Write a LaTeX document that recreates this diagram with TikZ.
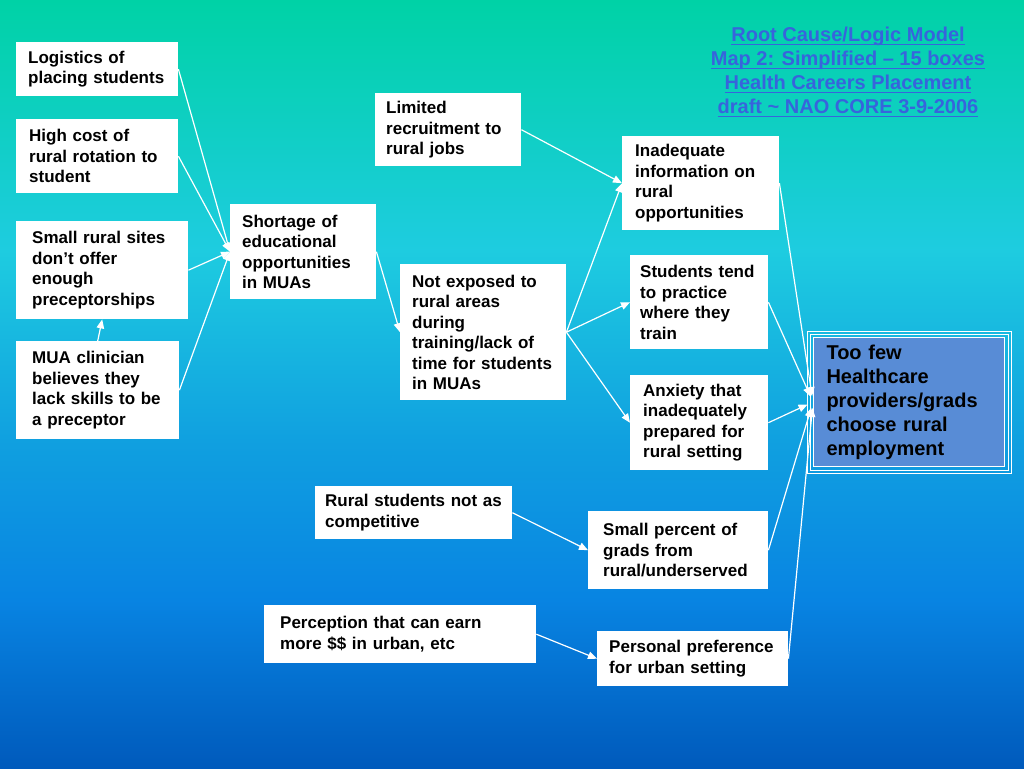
\documentclass[tikz,border=0pt]{standalone}
\usepackage{fontspec}
\setmainfont{Liberation Sans}
\usetikzlibrary{arrows.meta}

\definecolor{bgA}{RGB}{0,210,166}
\definecolor{bgB}{RGB}{30,204,224}
\definecolor{bgC}{RGB}{16,160,224}
\definecolor{bgD}{RGB}{8,132,226}
\definecolor{bgE}{RGB}{0,90,188}
\definecolor{titleblue}{RGB}{55,100,220}
\definecolor{fewblue}{RGB}{88,140,214}

% underlined title line
\newcommand{\titleline}[1]{\sbox0{#1}\rlap{\rule[-3.5pt]{\wd0}{1.3pt}}\usebox0}

\tikzset{
  box/.style={fill=white, anchor=north west, align=left, inner xsep=12pt, inner ysep=0pt,
    font=\bfseries\fontsize{17}{20.5}\selectfont},
}

\begin{document}
\begin{tikzpicture}[x=1pt, y=-1pt, >={Triangle[length=9pt,width=7.5pt]}]
			\useasboundingbox (0,0) rectangle (1024,768);
			\fill[top color=bgA, bottom color=bgB] (0,0) rectangle (1024,250.5);
			\fill[top color=bgB, bottom color=bgC] (0,250) rectangle (1024,440.5);
			\fill[top color=bgC, bottom color=bgD] (0,440) rectangle (1024,600.5);
			\fill[top color=bgD, bottom color=bgE] (0,600) rectangle (1024,768);

			\node[text=titleblue, align=center, inner sep=0pt, font=\bfseries\fontsize{20}{24}\selectfont] (title) at (848,72)
				{\titleline{Root Cause/Logic Model}\\\titleline{Map 2: Simplified – 15 boxes}\\\titleline{Health Careers Placement}\\\titleline{draft \textasciitilde\ NAO CORE 3-9-2006}};

			\begin{scope}[every node/.style={box}]
				\node[text width=138pt, minimum height=54pt] (logi) at (16,42) {Logistics of\\placing students};
				\node[inner xsep=13pt, text width=136pt, minimum height=74pt] (cost) at (16,119) {High cost of\\rural rotation to\\student};
				\node[inner xsep=16pt, text width=140pt, minimum height=98pt] (sites) at (16,221) {Small rural sites\\don’t offer\\enough\\preceptorships};
				\node[inner xsep=16pt, text width=131pt, minimum height=98pt] (mua) at (16,341) {MUA clinician\\believes they\\lack skills to be\\a preceptor};
				\node[text width=122pt, minimum height=95pt] (short) at (230,204) {Shortage of\\educational\\opportunities\\in MUAs};
				\node[inner xsep=11pt, text width=124pt, minimum height=73pt] (limit) at (375,93) {Limited\\recruitment to\\rural jobs};
				\node[text width=142pt, minimum height=136pt] (expo) at (400,264) {Not exposed to\\rural areas\\during\\training/lack of\\time for students\\in MUAs};
				\node[inner xsep=13pt, text width=131pt, minimum height=94pt] (inad) at (622,136) {Inadequate\\information on\\rural\\opportunities};
				\node[inner xsep=10pt, text width=118pt, minimum height=94pt] (tend) at (630,255) {Students tend\\to practice\\where they\\train};
				\node[inner xsep=13pt, text width=112pt, minimum height=95pt] (anx) at (630,375) {Anxiety that\\inadequately\\prepared for\\rural setting};
				\node[inner xsep=10pt, text width=177pt, minimum height=53pt] (rstu) at (315,486) {Rural students not as\\competitive};
				\node[inner xsep=15pt, text width=150pt, minimum height=78pt] (spct) at (588,511) {Small percent of\\grads from\\rural/underserved};
				\node[inner xsep=16pt, text width=240pt, minimum height=58pt] (perc) at (264,605) {Perception that can earn\\more \$\$ in urban, etc};
				\node[text width=167pt, minimum height=55pt] (pers) at (597,631) {Personal preference\\for urban setting};
			\end{scope}

			\node[box, fill=fewblue, draw=white, line width=1pt, inner xsep=13pt, text width=165pt, minimum height=129pt,
				font=\bfseries\fontsize{20}{24}\selectfont] (few) at (813,337) {Too few\\Healthcare\\providers/grads\\choose rural\\employment};
			\draw[white, line width=0.8pt] ([shift={(-3,-3)}]few.north west) rectangle ([shift={(3,3)}]few.south east);
			\draw[white, line width=0.8pt] ([shift={(-6,-6)}]few.north west) rectangle ([shift={(6,6)}]few.south east);

			\begin{scope}[every edge/.style={draw=white, line width=1.2pt}]
				\path [->] (logi.east) edge (short.west);
				\path [->] (cost.east) edge (short.west);
				\path [->] (sites.east) edge (short.west);
				\path [->] (mua.east) edge (short.west);
				\path [->] (mua.north) edge (sites.south);
				\path [->] (short.east) edge (expo.west);
				\path [->] (limit.east) edge (inad.west);
				\path [->] (expo.east) edge (inad.west);
				\path [->] (expo.east) edge (tend.west);
				\path [->] (expo.east) edge (anx.west);
				\path [->] (rstu.east) edge (spct.west);
				\path [->] (perc.east) edge (pers.west);
				\path [->, shorten >=6pt] (inad.east) edge (few.west);
				\path [->, shorten >=6pt] (tend.east) edge (few.west);
				\path [->, shorten >=6pt] (anx.east) edge (few.west);
				\path [->, shorten >=6pt] (spct.east) edge (few.west);
				\path [->, shorten >=6pt] (pers.east) edge (few.west);
			\end{scope}
		\end{tikzpicture}
\end{document}
